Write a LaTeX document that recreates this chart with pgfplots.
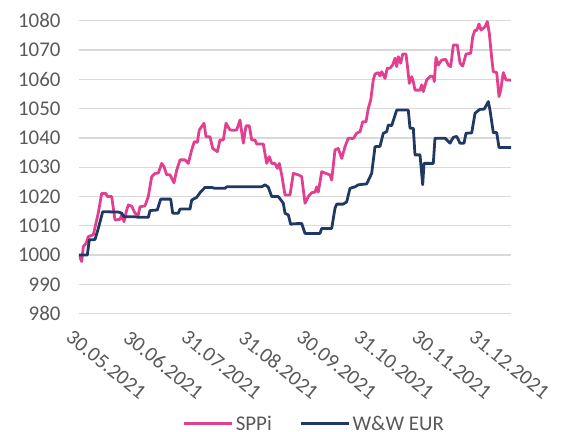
\documentclass[border=0pt]{standalone}
\usepackage{fontspec}
\setmainfont{Carlito}
\usepackage{pgfplots}
\pgfplotsset{compat=1.18}

\definecolor{sppi}{RGB}{226,64,142}
\definecolor{wweur}{RGB}{31,56,100}
\definecolor{gridgray}{RGB}{217,217,217}
\definecolor{labelgray}{RGB}{89,89,89}

\begin{document}
\begin{tikzpicture}
\begin{axis}[
  scale only axis,
  width=432bp, height=293bp,
  xmin=79, xmax=511,
  ymin=980, ymax=1080,
  ytick={980,990,...,1080},
  xtick={79,136.6,194.2,251.8,309.4,367,424.6,482.2},
  xticklabels={30.05.2021,30.06.2021,31.07.2021,31.08.2021,30.09.2021,31.10.2021,30.11.2021,31.12.2021},
  ymajorgrids,
  grid style={color=gridgray, line width=1.3bp},
  axis line style={draw=none},
  major tick length=0pt,
  /pgf/number format/assume math mode=true,
  /pgf/number format/1000 sep={},
  tick label style={font=\fontsize{21}{25}\selectfont, text=labelgray},
  yticklabel style={xshift=-15bp},
  xticklabel style={rotate=-39, anchor=north west, yshift=-12bp, xshift=2bp},
  legend style={at={(axis description cs:0.545,-0.376)}, anchor=center,
    draw=none, fill=none, font=\fontsize{21}{25}\selectfont, text=labelgray,
    /tikz/every even column/.append style={column sep=26bp}},
  legend columns=2,
  legend image code/.code={\draw[#1, line width=2.8pt] (0bp,0bp) -- (48bp,0bp);},
  every axis plot/.append style={line width=2.8pt, line join=round, mark=none},
]
% SPPi
\addplot[color=sppi] coordinates {
(79,1000) (81.7,997.8) (83.3,1002.9) (86,1004) (88.3,1006.3) (93.3,1006.9)
(98.3,1014.4) (101.7,1021.1) (106,1021) (107.3,1020) (111.7,1020) (115,1012)
(120,1012.2) (121.7,1013.7) (124,1011.4) (126.7,1015.4) (128.3,1017.1) (131.7,1016.7)
(135,1014.3) (138.3,1013.7) (140,1016.5) (145,1016.8) (148.3,1020) (151.7,1026.8)
(155,1027.9) (158.3,1028) (161.7,1031.3) (164,1030.2) (166.7,1027.4) (170,1027.4)
(174,1024.7) (176.7,1029) (180,1032.5) (185,1032.5) (188.3,1031.3) (191.7,1035.9)
(194.3,1038.7) (197.3,1038.5) (199.3,1042.7) (204,1045) (206,1040.4) (210,1040.4)
(212.7,1036.4) (217.3,1035.3) (220,1039.3) (223.3,1039.3) (226,1045) (230,1042.7)
(233.3,1042.6) (236.7,1042.7) (240,1046.1) (243.3,1038.2) (246,1044.1) (249.3,1044.1)
(251.7,1039.3) (255,1039.3) (256.7,1037.9) (263.3,1037.9) (266.7,1031.3) (269.3,1033.6)
(271.7,1031.3) (275,1031.3) (277.3,1029.6) (279.3,1031.3) (281.7,1027.4) (285,1020.5)
(290,1020.5) (293.3,1027.9) (298.3,1027.4) (301.7,1026.8) (305,1017.7) (308.3,1020)
(311.7,1021.3) (315,1021.5) (316.7,1023.3) (318.3,1021.5) (321.7,1028.5) (325,1028)
(330,1027.4) (331.7,1025.6) (335,1035.9) (338.3,1036.4) (341.7,1033) (345,1037)
(348.3,1039.9) (353.3,1039.8) (356.7,1041.6) (360,1042.1) (362.7,1045.5) (366,1045.5)
(368.3,1050.1) (370.7,1052.9) (373.3,1059.8) (375,1061.8) (378.3,1062.3) (380,1061.1)
(381.7,1062.6) (385,1060.3) (387.3,1063.8) (390,1063.8) (392.7,1064.9) (395,1067.2)
(396.7,1064.3) (398.3,1067.7) (400.7,1065.5) (402.7,1068.6) (406,1068.6) (407.3,1064.9)
(409.3,1058.6) (411.7,1060.9) (413.3,1059.2) (415,1056.3) (420,1056.3) (421.7,1058.1)
(423.3,1055.8) (426.7,1059.8) (430.7,1061.1) (433.3,1060.9) (434.3,1059.2) (436,1067.5)
(438.3,1064.9) (441.7,1066.6) (445.7,1066.8) (448.3,1064.9) (450.7,1064.3) (453.3,1071.7)
(457.3,1071.7) (460,1065.5) (462.7,1064.5) (466,1068.6) (470.7,1068.9) (472.7,1074.5)
(475,1076.8) (476.7,1076.6) (479,1078.9) (481,1076.8) (483.3,1077.4) (485,1077.9)
(487.3,1079.7) (489.3,1075.7) (491.7,1067.2) (493.3,1062.6) (496.7,1062.3) (499,1054.1)
(500.7,1056.3) (503.3,1062.3) (506,1059.8) (511,1059.7)
};
\addlegendentry{SPPi}
% W&W EUR
\addplot[color=wweur] coordinates {
(79,1000) (87.3,1000) (89.3,1005.2) (95,1005.3) (98.3,1009.1) (102.7,1014.8)
(118.3,1014.7) (121.7,1014.3) (124,1013.1) (135,1013.1) (138.3,1012.9) (148.3,1012.9)
(150,1015.2) (157.3,1015.4) (160.7,1019.1) (170.7,1019.1) (172.7,1014.3) (178.3,1014.3)
(180,1015.7) (190,1015.7) (191.7,1018.8) (196.7,1019.7) (200,1021.3) (205,1023.1)
(211.7,1023.1) (215,1022.8) (225,1022.8) (226.7,1023.3) (261.7,1023.3) (265,1024)
(268.3,1023.2) (271.7,1020) (278.3,1020) (283.3,1017.7) (285,1014.3) (288.3,1013.7)
(290.7,1010.5) (293.3,1010.7) (301.7,1010.8) (305,1007.4) (320,1007.4) (321.7,1009.1)
(331.7,1009.1) (335,1016) (336.7,1017.4) (343.3,1017.4) (346.7,1018.2) (350,1022.8)
(355,1023.3) (358.3,1024) (366.7,1024.3) (371.7,1027.9) (375,1037) (380,1037.1)
(383.3,1041.6) (386.7,1042.1) (388.3,1044.4) (391.7,1044.2) (396.7,1049.5) (408.3,1049.5)
(410,1043.3) (413.3,1043.3) (415,1034.2) (420,1034.2) (422.7,1024) (424,1031.3)
(433.3,1031.3) (435,1039.9) (445,1039.9) (450,1038.2) (453.3,1040.2) (456.7,1040.5)
(460,1038.2) (464,1038.2) (466,1041.6) (471.7,1041.7) (475,1048.4) (480,1049.8)
(484,1049.8) (486,1050.9) (488.3,1052.4) (490,1049.5) (493.3,1041.8) (496.7,1041.8)
(499,1036.7) (511,1036.7)
};
\addlegendentry{W\&W EUR}
\end{axis}
\pgfresetboundingbox
\path (-79bp,-118.3bp) rectangle (491bp,313.7bp);
\end{tikzpicture}
\end{document}
